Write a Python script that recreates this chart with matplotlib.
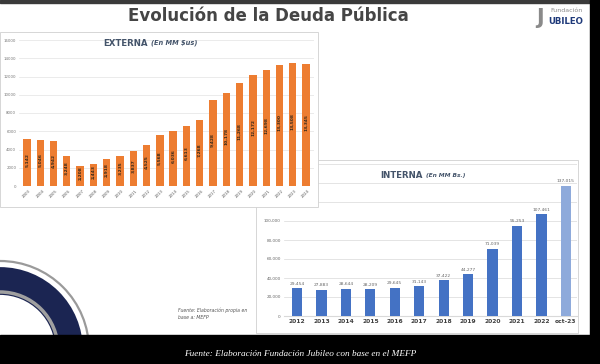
import matplotlib.pyplot as plt
from matplotlib.patches import Rectangle, Circle

# data
ext_years = ['2003', '2004', '2005', '2006', '2007', '2008', '2009', '2010', '2011', '2012', '2013',
             '2014', '2015', '2016', '2017', '2018', '2019', '2020', '2021', '2022', '2023', '2024']
ext_vals = [5142, 5046, 4942, 3248, 2208, 2443, 2918, 3235, 3837, 4525, 5568,
            6036, 6613, 7268, 9428, 10178, 11268, 12172, 12698, 13300, 13508, 13345]

int_labels = ['2012', '2013', '2014', '2015', '2016', '2017', '2018', '2019', '2020', '2021', '2022', 'oct-23']
int_vals = [29454, 27883, 28644, 28209, 29645, 31143, 37422, 44277, 71039, 95253, 107461, 137015]

W, H = 600, 364
fig = plt.figure(figsize=(6, 3.64), dpi=100)
fig.patch.set_facecolor('white')

def fx(x):
    return x / W

def fy(y):
    return 1 - y / H

# background layer in pixel coordinates
bg = fig.add_axes([0, 0, 1, 1])
bg.set_xlim(0, W)
bg.set_ylim(H, 0)
bg.axis('off')

# decoration bottom left
bg.add_patch(Circle((0, 350), 89, fill=False, ec='#9a9a9a', lw=1.6))
bg.add_patch(Circle((0, 350), 69, fill=False, ec='#1b2552', lw=20))
bg.add_patch(Circle((0, 350), 58, fill=False, ec='#a0a0a0', lw=2.5))

# bands
bg.add_patch(Rectangle((0, 0), W, 3, color='#3a3a3a'))
bg.add_patch(Rectangle((590, 0), 10, H, color='black'))
bg.add_patch(Rectangle((0, 335), W, 29, color='black'))

# right chart box
bg.add_patch(Rectangle((256, 160), 322, 173, fc='white', ec='#d0d0d0', lw=0.6))

# right chart (INTERNA)
ax2 = fig.add_axes([fx(283.5), fy(316), (577 - 283.5) / W, 152 / H])
x2 = range(len(int_vals))
colors2 = ['#4472c4'] * (len(int_vals) - 1) + ['#8eaadb']
ax2.bar(x2, int_vals, width=0.42, color=colors2, zorder=3)
for i, v in enumerate(int_vals):
    ax2.text(i, v + 2500, f'{v:,}', ha='center', va='bottom', fontsize=3.2, color='#666666')
ax2.set_xlim(-0.55, 11.45)
ax2.set_ylim(0, 160000)
ax2.set_yticks(range(0, 160001, 20000))
ax2.set_yticklabels([f'{t:,}' for t in range(0, 160001, 20000)], fontsize=3, color='#666666')
ax2.set_xticks(list(x2))
ax2.set_xticklabels(int_labels, fontsize=4.3, fontweight='bold', color='#404040')
ax2.grid(axis='y', color='#d9d9d9', lw=0.5, zorder=0)
for s in ax2.spines.values():
    s.set_visible(False)
ax2.spines['bottom'].set_visible(True)
ax2.spines['bottom'].set_color('#d9d9d9')
ax2.tick_params(length=0, pad=2)
ax2.set_facecolor('none')

# left chart box, drawn over the right one
box = fig.add_axes([0, 0, 1, 1])
box.set_xlim(0, W)
box.set_ylim(H, 0)
box.axis('off')
box.add_patch(Rectangle((0, 32), 318, 175, fc='white', ec='#d0d0d0', lw=0.6))

# left chart (EXTERNA)
ax1 = fig.add_axes([fx(19), fy(186), 295 / W, 146 / H])
x1 = range(len(ext_vals))
ax1.bar(x1, ext_vals, width=0.55, color='#ed7d31', zorder=3)
for i, v in enumerate(ext_vals):
    ax1.text(i, v / 2 + 300, f'{v:,}', ha='center', va='center', rotation=90,
             fontsize=3.2, fontweight='bold', color='#3a2a1a', zorder=4)
ax1.set_xlim(-0.6, 21.6)
ax1.set_ylim(0, 16000)
ax1.set_yticks(range(0, 16001, 2000))
ax1.set_yticklabels([str(t) for t in range(0, 16001, 2000)], fontsize=2.8, color='#777777')
ax1.set_xticks(list(x1))
ax1.set_xticklabels(ext_years, fontsize=2.8, rotation=45, color='#555555')
ax1.grid(axis='y', color='#e3e3e3', lw=0.5, zorder=0)
for s in ax1.spines.values():
    s.set_visible(False)
ax1.tick_params(length=0, pad=2)
ax1.set_facecolor('none')

# texts
fig.text(fx(268), fy(16), 'Evolución de la Deuda Pública', ha='center', va='center',
         fontsize=12, fontweight='bold', color='#454545')
fig.text(fx(148), fy(43), 'EXTERNA', ha='right', va='center', fontsize=6.2, fontweight='bold', color='#44546a')
fig.text(fx(151), fy(43), '(En MM $us)', ha='left', va='center', fontsize=4.8, fontweight='bold',
         style='italic', color='#44546a')
fig.text(fx(423), fy(175), 'INTERNA', ha='right', va='center', fontsize=6.2, fontweight='bold', color='#44546a')
fig.text(fx(426), fy(175), '(En MM Bs.)', ha='left', va='center', fontsize=4.2, fontweight='bold',
         style='italic', color='#44546a')
fig.text(fx(178), fy(314), 'Fuente: Elaboración propia en\nbase a: MEFP', ha='left', va='center',
         fontsize=3.3, style='italic', color='#555555', linespacing=1.4)
fig.text(fx(300), fy(354), 'Fuente: Elaboración Fundación Jubileo con base en el MEFP', ha='center',
         va='center', fontsize=6.7, style='italic', family='Liberation Serif', color='white')

# logo
fig.text(fx(540), fy(18), 'J', ha='center', va='center', fontsize=15, fontweight='bold', color='#8a8a8a')
fig.text(fx(550), fy(11), 'Fundación', ha='left', va='center', fontsize=4.5, color='#8a8a8a')
fig.text(fx(548), fy(22), 'UBILEO', ha='left', va='center', fontsize=6.2, fontweight='bold', color='#1f3a7a')

fig.savefig('out.png', dpi=100)
